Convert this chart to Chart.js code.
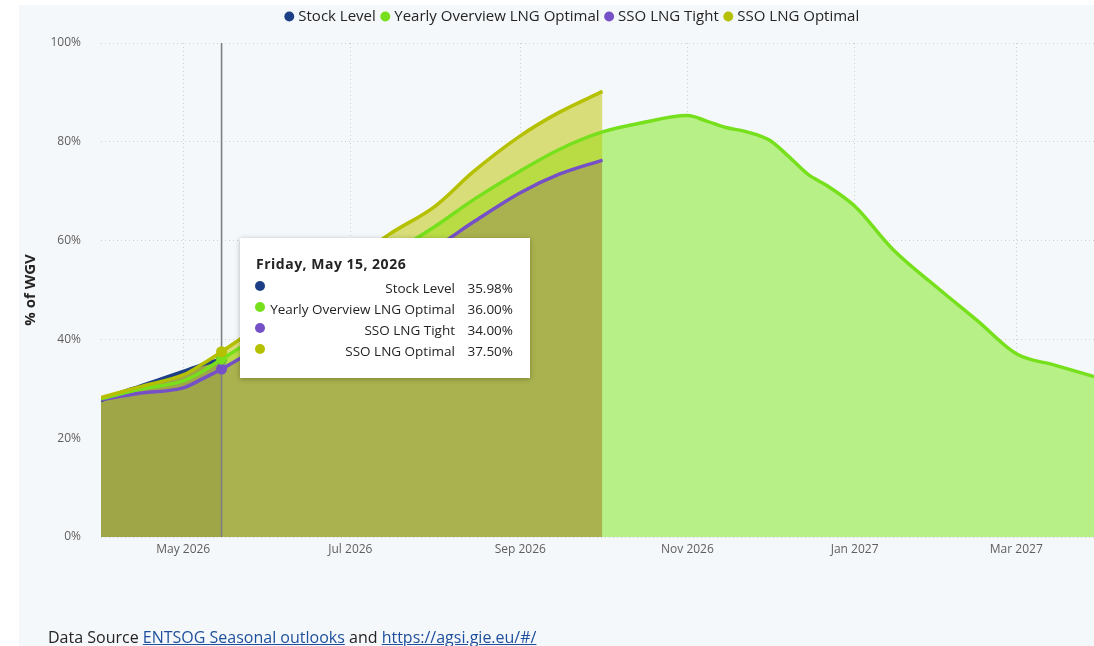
<!DOCTYPE html>
<html><head><meta charset="utf-8">
<script src="https://cdn.jsdelivr.net/npm/chart.js@4.4.1/dist/chart.umd.min.js"></script>
<style>
html,body{margin:0;padding:0;background:#fff;width:1094px;height:646px;overflow:hidden;font-family:'Open Sans',sans-serif;}
#panel{position:absolute;left:19px;top:5px;width:1075px;height:641px;background:#f5f8fb;}
#c{position:absolute;left:0;top:0;width:1104px;height:646px;}
#tip{position:absolute;left:240px;top:238px;width:290px;height:140px;background:#fff;box-shadow:0 1px 5px rgba(0,0,0,0.28);color:#252423;}
#tip .t{position:absolute;left:16px;top:16px;font-weight:700;font-size:14px;letter-spacing:0.5px;white-space:nowrap;line-height:20px;}
#tip .d{position:absolute;width:10px;height:10px;border-radius:50%;}
#tip .l{position:absolute;right:75px;font-size:13.5px;white-space:nowrap;line-height:20px;}
#tip .v{position:absolute;right:17px;font-size:13.5px;white-space:nowrap;line-height:20px;}
#footer{position:absolute;left:48px;top:626px;font-size:16px;color:#252423;white-space:nowrap;line-height:22px;}
#footer a{color:#1d4f9c;text-decoration:underline;}
</style></head><body>
<div id="panel"></div>
<canvas id="c" width="1104" height="646"></canvas>
<div id="tip"></div>
<div id="footer">Data Source <a>ENTSOG Seasonal outlooks</a> and <a>https://agsi.gie.eu/#/</a></div>
<script>
// ---- data ----
const stockDates  = ['2026-04-01','2026-04-08','2026-04-15','2026-04-22','2026-05-01','2026-05-08','2026-05-15'];
const stockValues = [27.6, 29.2, 30.5, 31.8, 33.5, 34.9, 35.98];

const ssoDates    = ['2026-04-01','2026-04-15','2026-05-01','2026-05-08','2026-05-15','2026-06-01','2026-06-15','2026-07-01','2026-07-15','2026-08-01','2026-08-15','2026-09-01','2026-09-15','2026-10-01'];
const ssoTight    = [27.8, 29.1, 30.2, 32.0, 34.0, 39.5, 44.0, 49.0, 53.6, 58.6, 63.8, 69.7, 73.4, 76.3];
const ssoOptimal  = [28.2, 30.4, 32.8, 35.0, 37.5, 44.0, 49.5, 55.5, 61.2, 67.0, 74.0, 81.2, 85.9, 90.2];

const yearlyDates  = ['2026-04-01','2026-04-15','2026-05-01','2026-05-08','2026-05-15','2026-06-01','2026-06-15','2026-07-01','2026-07-15','2026-08-01','2026-08-15','2026-09-01','2026-09-15','2026-10-01','2026-10-15','2026-11-01','2026-11-08','2026-11-15','2026-11-22','2026-12-01','2026-12-08','2026-12-15','2026-12-22','2027-01-01','2027-01-15','2027-02-01','2027-02-15','2027-03-01','2027-03-15','2027-03-31'];
const yearlyValues = [28.0, 29.9, 31.6, 33.5, 36.0, 41.8, 46.7, 52.2, 57.0, 62.9, 68.3, 74.1, 78.4, 82.0, 83.8, 85.3, 84.2, 82.9, 82.1, 80.3, 77.0, 73.4, 71.1, 67.0, 58.2, 50.1, 43.7, 37.1, 34.8, 32.2];

const tickDates  = ['2026-05-01','2026-07-01','2026-09-01','2026-11-01','2027-01-01','2027-03-01'];
const tickLabels = ['May 2026','Jul 2026','Sep 2026','Nov 2026','Jan 2027','Mar 2027'];
const yTicks     = [0, 20, 40, 60, 80, 100];
const hoverDate  = '2026-05-15';

// ---- helpers ----
const BASE = Date.UTC(2026, 3, 1);
const dayOf = s => (Date.parse(s + 'T00:00:00Z') - BASE) / 86400000;
const toPts = (dates, vals) => dates.map((d, i) => ({x: dayOf(d), y: vals[i]}));
const hoverX = dayOf(hoverDate);

const COL = {stock:'#1c3f85', yearly:'#77e01c', tight:'#7650c6', optimal:'#b5c000'};

const stockPts = toPts(stockDates, stockValues);
const yearlyPts = toPts(yearlyDates, yearlyValues);
const tightPts = toPts(ssoDates, ssoTight);
const optimalPts = toPts(ssoDates, ssoOptimal);

function lineDs(label, pts, color, order) {
  return {label, data: pts, borderColor: color, backgroundColor: color, borderWidth: 3.5,
    fill: false, cubicInterpolationMode: 'monotone', order,
    pointRadius: c => (c.raw && c.raw.x === hoverX) ? 5.5 : 0,
    pointHoverRadius: c => (c.raw && c.raw.x === hoverX) ? 5.5 : 0,
    pointBackgroundColor: color, pointBorderWidth: 0, pointStyle: 'circle'};
}
function fillDs(pts, fill, order) {
  return {label: '_fill', data: pts, borderWidth: 0, borderColor: 'rgba(0,0,0,0)',
    backgroundColor: 'rgba(0,0,0,0)', pointRadius: 0, pointHoverRadius: 0,
    cubicInterpolationMode: 'monotone', fill, order};
}
const T = 'rgba(0,0,0,0)';

const datasets = [
  lineDs('Stock Level', stockPts, COL.stock, 4),                 // 0
  lineDs('Yearly Overview LNG Optimal', yearlyPts, COL.yearly, 2), // 1
  lineDs('SSO LNG Tight', tightPts, COL.tight, 3),               // 2
  lineDs('SSO LNG Optimal', optimalPts, COL.optimal, 1),         // 3
  fillDs(yearlyPts, {target:'origin', above:'#b8f088', below:T}, 20),
  fillDs(optimalPts, {target:1, above:'#d8dd79', below:T}, 19),
  fillDs(tightPts, {target:1, above:T, below:'#b9dc45'}, 18),
  fillDs(tightPts, {target:'origin', above:'#a9b24e', below:T}, 17),
  fillDs(stockPts, {target:'origin', above:'#9ea647', below:T}, 16)
];

const hoverPlugin = {
  id: 'hoverLine',
  beforeInit(chart) {
    const lg = chart.legend;
    if (lg) {
      const orig = lg.fit.bind(lg);
      lg.fit = function () { orig(); this.height += 9; };
    }
  },
  afterLayout(chart) {
    const lg = chart.legend;
    if (lg) { lg.left += 12; lg.right += 12; }
  },
  beforeDatasetsDraw(chart) {
    const {ctx, chartArea, scales} = chart;
    const x = scales.x.getPixelForValue(hoverX);
    ctx.save();
    ctx.strokeStyle = '#7f7f7f';
    ctx.lineWidth = 1.6;
    ctx.beginPath();
    ctx.moveTo(x, chartArea.top);
    ctx.lineTo(x, chartArea.bottom);
    ctx.stroke();
    ctx.restore();
  },
  afterDraw(chart) {
    const tip = document.getElementById('tip');
    if (tip.dataset.done) return;
    tip.dataset.done = '1';
    const title = new Date(Date.parse(hoverDate + 'T00:00:00Z')).toLocaleDateString('en-US',
      {weekday:'long', year:'numeric', month:'long', day:'numeric', timeZone:'UTC'});
    let html = '<div class="t">' + title + '</div>';
    for (let i = 0; i < 4; i++) {
      const ds = chart.data.datasets[i];
      const p = ds.data.find(q => q.x === hoverX);
      const cy = 50 + i * 21;
      html += '<div class="d" style="left:15px;top:' + (cy - 7) + 'px;background:' + ds.borderColor + '"></div>';
      html += '<div class="l" style="top:' + (cy - 10) + 'px">' + ds.label + '</div>';
      html += '<div class="v" style="top:' + (cy - 10) + 'px">' + p.y.toFixed(2) + '%</div>';
    }
    tip.innerHTML = html;
  }
};

const gridCol = '#cdd0d3';
new Chart(document.getElementById('c'), {
  type: 'line',
  data: {datasets},
  options: {
    responsive: false, animation: false,
    layout: {padding: {left: 19, top: 1, right: 0, bottom: 0}},
    plugins: {
      filler: {drawTime: 'beforeDatasetsDraw'},
      tooltip: {enabled: false},
      legend: {
        position: 'top', align: 'center',
        labels: {
          usePointStyle: true, pointStyle: 'circle', boxHeight: 7, boxWidth: 3, padding: 8,
          color: '#252423', font: {family: 'Open Sans', size: 15},
          filter: item => item.datasetIndex < 4,
          sort: (a, b) => a.datasetIndex - b.datasetIndex
        }
      }
    },
    scales: {
      x: {
        type: 'linear', min: 0, max: dayOf('2027-03-31'),
        afterBuildTicks: s => { s.ticks = tickDates.map(d => ({value: dayOf(d)})); },
        afterFit: s => { s.height = 109; },
        ticks: {callback: (v, i) => tickLabels[i], autoSkip: false, maxRotation: 0, padding: 5,
          color: '#605e5c', font: {family: 'Open Sans', size: 12}},
        grid: {color: gridCol, drawTicks: false, lineWidth: 1},
        border: {display: false, dash: [1, 3]}
      },
      y: {
        min: 0, max: 100,
        afterBuildTicks: s => { s.ticks = yTicks.map(v => ({value: v})); },
        afterFit: s => { s.width = 82; },
        ticks: {callback: v => v + '%', padding: 20, color: '#605e5c', font: {family: 'Open Sans', size: 12}},
        grid: {color: gridCol, drawTicks: false, lineWidth: 1},
        border: {display: false, dash: [1, 3]},
        title: {display: true, text: '% of WGV', color: '#252423', padding: {top: 3, bottom: 3},
          font: {family: 'Open Sans', size: 15, weight: 'bold'}}
      }
    }
  },
  plugins: [hoverPlugin]
});
</script>
</body></html>
